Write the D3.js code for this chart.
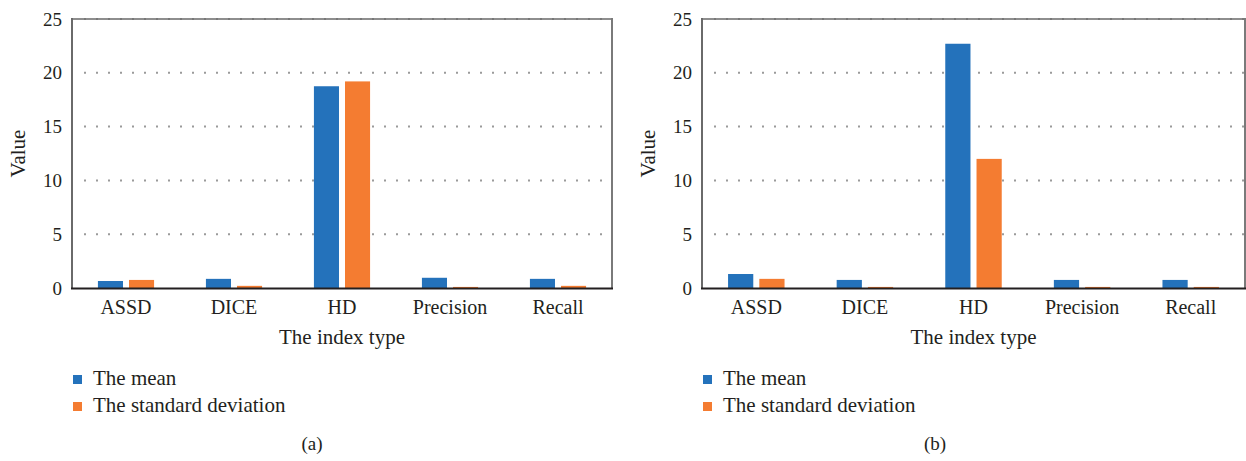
<!DOCTYPE html>
<html>
<head>
<meta charset="utf-8">
<script src="https://cdn.jsdelivr.net/npm/d3@7"></script>
<style>
  body { margin: 0; background: #fff; }
  text { font-family: "Liberation Serif", "DejaVu Serif", serif; fill: #231f20; }
</style>
</head>
<body>
<svg id="chart" width="1246" height="461"></svg>
<script>
// Data
const categories = ["ASSD", "DICE", "HD", "Precision", "Recall"];
const seriesNames = ["The mean", "The standard deviation"];
const meanA = [0.65, 0.85, 18.75, 0.95, 0.85];
const sdA   = [0.75, 0.2, 19.2, 0.1, 0.2];
const meanB = [1.3, 0.75, 22.7, 0.75, 0.75];
const sdB   = [0.85, 0.1, 12.0, 0.1, 0.1];
const yTicks = [0, 5, 10, 15, 20, 25];
const colors = ["#2472bb", "#f47c31"];

const svg = d3.select("#chart");

// one subfigure: plot box x0..x1, y from 19 (25) to 288 (0)
function drawPanel(opts, means, sds) {
  const g = svg.append("g");
  const top = 19, bottom = 288;

  const x = d3.scaleBand().domain(categories)
    .range([opts.x0, opts.x1])
    .paddingInner(0.48).paddingOuter(0.24);
  const xs = d3.scaleBand().domain(seriesNames)
    .range([0, x.bandwidth()]).paddingInner(6 / 31);
  const y = d3.scaleLinear().domain([0, 25]).range([bottom, top]);

  // dotted grid
  g.selectAll(".grid").data(yTicks.filter(d => d > 0)).enter()
    .append("line")
    .attr("x1", opts.x0 + 12).attr("x2", opts.x1)
    .attr("y1", d => y(d)).attr("y2", d => y(d))
    .attr("stroke", d => d === 25 ? "#6a6a6a" : "#9a9a9a")
    .attr("stroke-width", 2)
    .attr("stroke-dasharray", "2,10");

  // frame: top, right, left
  g.append("line").attr("x1", opts.x0).attr("x2", opts.x1)
    .attr("y1", top).attr("y2", top)
    .attr("stroke", "#7a7a7a").attr("stroke-width", 2).attr("stroke-opacity", 0.85);
  g.append("line").attr("x1", opts.x1).attr("x2", opts.x1)
    .attr("y1", top - 1).attr("y2", bottom)
    .attr("stroke", "#7a7a7a").attr("stroke-width", 2);
  g.append("line").attr("x1", opts.x0).attr("x2", opts.x0)
    .attr("y1", top - 1).attr("y2", bottom)
    .attr("stroke", "#6a6a6a").attr("stroke-width", 2);

  // bars
  const rows = categories.map((c, i) => ({ c: c, vals: [means[i], sds[i]] }));
  const grp = g.selectAll(".cat").data(rows).enter().append("g")
    .attr("transform", d => "translate(" + x(d.c) + ",0)");
  grp.selectAll("rect").data(d => d.vals.map((v, j) => ({ s: seriesNames[j], v: v, j: j })))
    .enter().append("rect")
    .attr("x", d => xs(d.s))
    .attr("width", xs.bandwidth())
    .attr("y", d => y(d.v))
    .attr("height", d => y(0) - y(d.v))
    .attr("fill", d => colors[d.j]);

  // bottom axis line
  g.append("line").attr("x1", opts.x0 - 1).attr("x2", opts.x1 + 1)
    .attr("y1", bottom + 0.5).attr("y2", bottom + 0.5)
    .attr("stroke", "#231f20").attr("stroke-width", 2);

  // y tick labels
  g.selectAll(".ylab").data(yTicks).enter().append("text")
    .attr("x", opts.x0 - 10).attr("y", d => y(d))
    .attr("dy", "0.35em")
    .attr("text-anchor", "end")
    .attr("font-size", 19)
    .text(d => d);

  // x tick labels
  g.selectAll(".xlab").data(categories).enter().append("text")
    .attr("x", d => x(d) + x.bandwidth() / 2).attr("y", 314)
    .attr("text-anchor", "middle")
    .attr("font-size", 20)
    .text(d => d);

  // axis titles
  g.append("text")
    .attr("x", (opts.x0 + opts.x1) / 2).attr("y", 344)
    .attr("text-anchor", "middle").attr("font-size", 21)
    .text("The index type");
  g.append("text")
    .attr("transform", "translate(" + (opts.x0 - 47) + "," + ((top + bottom) / 2) + ") rotate(-90)")
    .attr("text-anchor", "middle").attr("font-size", 21)
    .text("Value");

  // legend
  const leg = g.selectAll(".leg").data(seriesNames).enter().append("g")
    .attr("transform", (d, i) => "translate(" + (opts.x0 + 1) + "," + (375 + i * 27) + ")");
  leg.append("rect").attr("width", 9).attr("height", 9)
    .attr("fill", (d, i) => colors[i]);
  leg.append("text").attr("x", 20).attr("y", 10)
    .attr("font-size", 21).text(d => d);

  // caption
  g.append("text")
    .attr("x", opts.cap).attr("y", 450)
    .attr("text-anchor", "middle").attr("font-size", 19)
    .text(opts.label);
}

drawPanel({ x0: 72, x1: 612, cap: 312, label: "(a)" }, meanA, sdA);
drawPanel({ x0: 702, x1: 1245, cap: 935, label: "(b)" }, meanB, sdB);
</script>
</body>
</html>
